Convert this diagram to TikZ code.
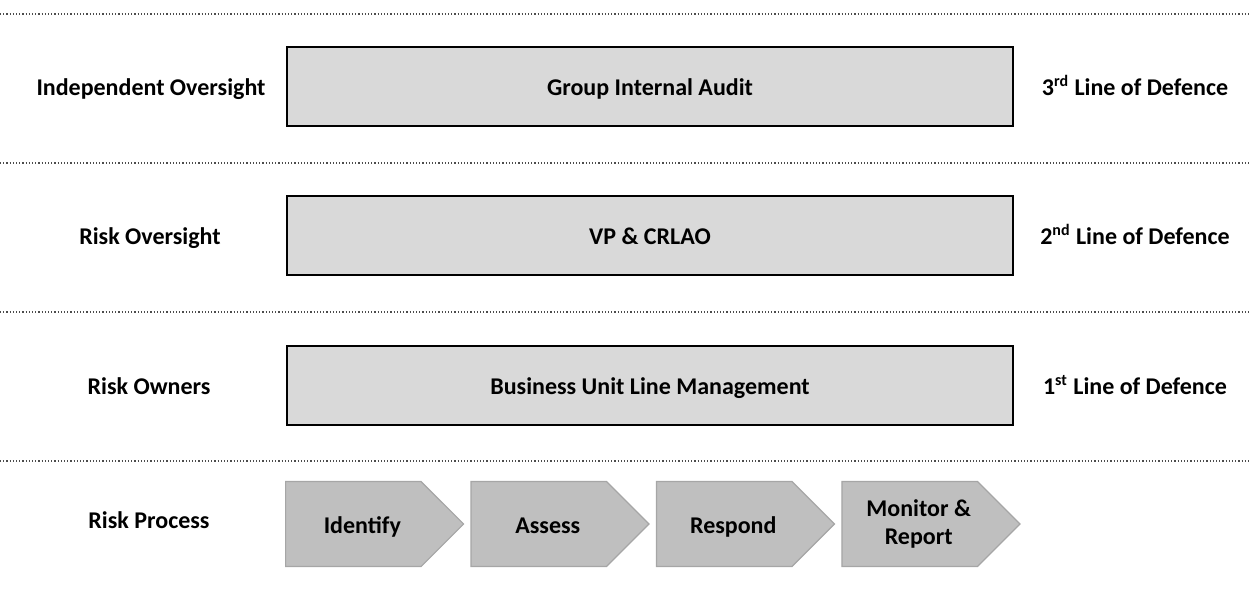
\documentclass[tikz,border=0pt]{standalone}
\usepackage{fontspec}
\setmainfont{Carlito}
\usetikzlibrary{positioning,shapes.symbols}

\begin{document}
\begin{tikzpicture}[x=0.5pt,y=-0.5pt,font=\fontsize{12}{14}\selectfont\bfseries,
lvl/.style={draw=black,line width=1pt,rectangle,fill=black!15,minimum width=363pt,minimum height=39.5pt,text height=2.2ex,text depth=.25ex},
side/.style={text height=2.2ex,text depth=.25ex},
proc/.style={signal,signal to=east,signal pointer angle=90,draw=black!35,line width=0.6pt,fill=black!25,minimum width=89pt,minimum height=42.5pt,inner sep=0pt},
sep/.style={densely dotted,black!70,line width=0.6pt}]
	\useasboundingbox (0,0) rectangle (1249,589);
	\draw[sep] (0,14) -- (1249,14);
	\draw[sep] (0,163) -- (1249,163);
	\draw[sep] (0,312) -- (1249,312);
	\draw[sep] (0,461) -- (1249,461);
	
	\node[lvl] at (650,86) (g1) {Group Internal Audit};
	\node[lvl] at (650,235) (g2) {VP \& CRLAO};
	\node[lvl] at (650,385) (g3) {Business Unit Line Management};
	
	\node[side] at (151,86) (l1) {Independent Oversight};
	\node[side] at (150,235) (l2) {Risk Oversight};
	\node[side] at (149,385) (l3) {Risk Owners};
	\node[side] at (149,519) (l4) {Risk Process};
	
	\node[side] at (1135,86) (r1) {3\textsuperscript{rd} Line of Defence};
	\node[side] at (1135,235) (r2) {2\textsuperscript{nd} Line of Defence};
	\node[side] at (1135,385) (r3) {1\textsuperscript{st} Line of Defence};
	
	\node[proc,anchor=west,label={[xshift=4.5pt,side]center:Identify}] at (285,524) (p1) {};
	\node[proc,right=3pt of p1,label={[xshift=4.5pt,side]center:Assess}] (p2) {};
	\node[proc,right=3pt of p2,label={[xshift=4.5pt,side]center:Respond}] (p3) {};
	\node[proc,right=3pt of p3,label={[xshift=4.5pt,align=center]center:Monitor \&\\Report}] (p4) {};
\end{tikzpicture}
\end{document}
